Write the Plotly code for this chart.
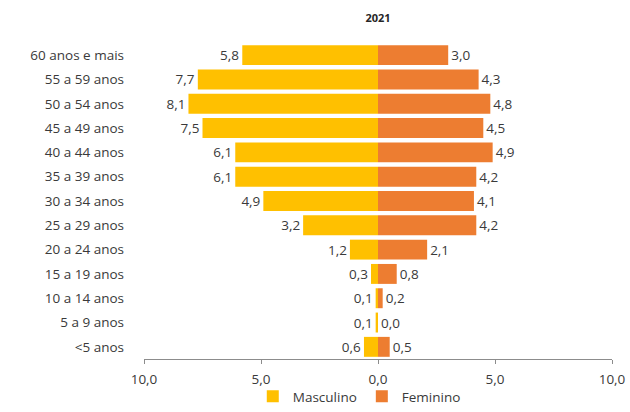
import plotly.graph_objects as go

# Age groups, top to bottom
age_groups = ["60 anos e mais", "55 a 59 anos", "50 a 54 anos", "45 a 49 anos",
              "40 a 44 anos", "35 a 39 anos", "30 a 34 anos", "25 a 29 anos",
              "20 a 24 anos", "15 a 19 anos", "10 a 14 anos", "5 a 9 anos", "<5 anos"]
masculino = [5.8, 7.7, 8.1, 7.5, 6.1, 6.1, 4.9, 3.2, 1.2, 0.3, 0.1, 0.1, 0.6]
feminino = [3.0, 4.3, 4.8, 4.5, 4.9, 4.2, 4.1, 4.2, 2.1, 0.8, 0.2, 0.0, 0.5]
tick_vals = [-10, -5, 0, 5, 10]
tick_text = ["10,0", "5,0", "0,0", "5,0", "10,0"]

FONT = "Open Sans"
TXT = "#3a3a3a"


def fmt(v):
    return f"{v:.1f}".replace(".", ",")


fig = go.Figure()
fig.add_trace(go.Bar(
    y=age_groups, x=[-v for v in masculino], orientation="h", name="Masculino",
    marker=dict(color="#FFC000", line=dict(width=0)),
    text=[fmt(v) for v in masculino], textposition="outside",
    textfont=dict(family=FONT, size=13.5, color=TXT), cliponaxis=False,
    hoverinfo="skip",
))
fig.add_trace(go.Bar(
    y=age_groups, x=feminino, orientation="h", name="Feminino",
    marker=dict(color="#ED7D31", line=dict(width=0)),
    text=[fmt(v) for v in feminino], textposition="outside",
    textfont=dict(family=FONT, size=13.5, color=TXT), cliponaxis=False,
    hoverinfo="skip",
))

fig.update_layout(
    width=630, height=412,
    margin=dict(l=144, r=18, t=43, b=53, autoexpand=False),
    paper_bgcolor="white", plot_bgcolor="white",
    barmode="relative", bargap=0.18,
    font=dict(family=FONT, size=13.5, color=TXT),
    title=dict(text="<b>2021</b>", x=0.5, xref="paper", xanchor="center",
               y=1 - 18 / 412, yanchor="middle",
               font=dict(family=FONT, size=11, color="#262626")),
    showlegend=True,
    legend=dict(orientation="h", x=0.46, xanchor="center",
                yref="container", y=-0.018, yanchor="bottom",
                bgcolor="rgba(0,0,0,0)",
                font=dict(family=FONT, size=13.5, color=TXT),
                itemwidth=30, traceorder="normal", tracegroupgap=0),
    uniformtext=dict(minsize=8),
)
fig.update_xaxes(
    range=[-10, 10], tickvals=tick_vals, ticktext=tick_text,
    showgrid=False, zeroline=False, showline=True, linecolor="#8c8c8c", linewidth=1,
    ticks="outside", ticklen=4, tickcolor="#8c8c8c", ticklabelstandoff=4,
    tickfont=dict(family=FONT, size=13.5, color=TXT),
)
fig.update_yaxes(
    autorange="reversed", showgrid=False, zeroline=False, showline=False,
    ticks="", ticklabelstandoff=19,
    tickfont=dict(family=FONT, size=13.5, color=TXT),
)

fig.write_html("out.html")
